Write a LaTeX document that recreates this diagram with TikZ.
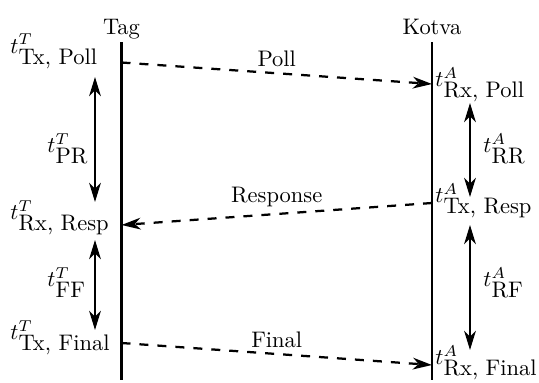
\documentclass[tikz,border=0pt]{standalone}
\usetikzlibrary{arrows.meta}
\begin{document}
\begin{tikzpicture}[x=0.4444pt,y=-0.4444pt,
  tip/.style={Stealth[length=8.5pt,width=5.2pt,inset=2.6pt]},
  lifeline/.style={line width=1.25pt},
  msg/.style={line width=1pt,dash pattern=on 4pt off 4pt,-{Stealth[length=8.5pt,width=5.2pt,inset=2.6pt]}},
  span/.style={line width=1pt,{Stealth[length=8.5pt,width=5.2pt,inset=2.6pt]}-{Stealth[length=8.5pt,width=5.2pt,inset=2.6pt]}},
  tlab/.style={anchor=base west,inner sep=0pt},
  msglab/.style={midway,above,inner sep=2.5pt},
  head/.style={anchor=south,inner sep=3pt}]
\useasboundingbox (0,0) rectangle (539,383);
% lifelines
\coordinate (tagtop) at (121.5,42);
\coordinate (tagbot) at (121.5,380);
\coordinate (kottop) at (432,42);
\coordinate (kotbot) at (432,380);
\draw[lifeline] (tagtop) -- (tagbot);
\draw[lifeline] (kottop) -- (kotbot);
\node[head] (tag) at ([yshift=-2]tagtop) {Tag};
\node[head] (kotva) at (kottop) {Kotva};
% message end points
\coordinate (p1) at (121.5,62.5);
\coordinate (p2) at (432,84);
\coordinate (r1) at (432,203);
\coordinate (r2) at (121.5,225);
\coordinate (f1) at (121.5,343);
\coordinate (f2) at (432,365);
\draw[msg] (p1) -- node[msglab] (pl) {Poll} (p2);
\draw[msg] (r1) -- node[msglab] (rl) {Response} (r2);
\draw[msg] (f1) -- node[msglab] (fl) {Final} (f2);
% interval arrows
\coordinate (a1) at (95,77);
\coordinate (a2) at (95,202);
\coordinate (a3) at (95,240);
\coordinate (a4) at (95,330);
\coordinate (b1) at (470,103);
\coordinate (b2) at (470,197);
\coordinate (b3) at (470,225);
\coordinate (b4) at (470,350);
\draw[span] (a1) -- (a2);
\draw[span] (a3) -- (a4);
\draw[span] (b1) -- (b2);
\draw[span] (b3) -- (b4);
% time labels
\node[tlab] (ttp) at (10,53) {$t^{T}_{\mbox{Tx, Poll}}$};
\node[tlab] (trr) at (10,219.5) {$t^{T}_{\mbox{Rx, Resp}}$};
\node[tlab] (ttf) at (10,339.5) {$t^{T}_{\mbox{Tx, Final}}$};
\node[tlab] (tpr) at (47,152.5) {$t^{T}_{\mbox{PR}}$};
\node[tlab] (tff) at (47,286.5) {$t^{T}_{\mbox{FF}}$};
\node[tlab] (arp) at (435,86.5) {$t^{A}_{\mbox{Rx, Poll}}$};
\node[tlab] (atr) at (435,202.5) {$t^{A}_{\mbox{Tx, Resp}}$};
\node[tlab] (arf) at (435,364.5) {$t^{A}_{\mbox{Rx, Final}}$};
\node[tlab] (arr) at (483,152.5) {$t^{A}_{\mbox{RR}}$};
\node[tlab] (arfi) at (483,286.5) {$t^{A}_{\mbox{RF}}$};
\end{tikzpicture}
\end{document}
